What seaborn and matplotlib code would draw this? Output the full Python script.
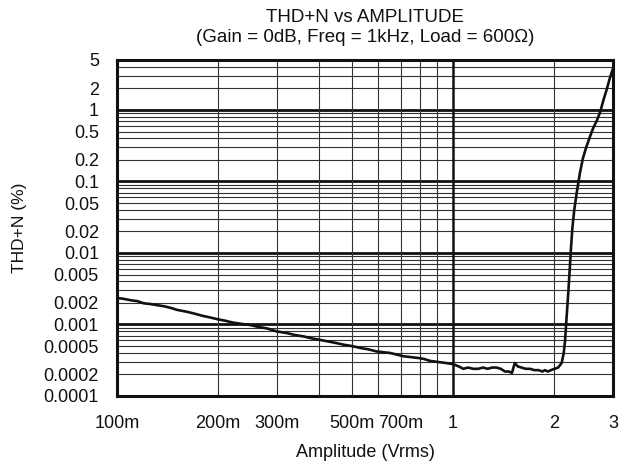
import matplotlib
matplotlib.use("Agg")
import matplotlib.pyplot as plt
import seaborn as sns
import pandas as pd
from matplotlib.ticker import FixedLocator, NullFormatter

# valores (Vrms, %)
amplitude = [0.100, 0.105, 0.110, 0.115, 0.120, 0.125, 0.131, 0.138, 0.145, 0.151,
             0.160, 0.169, 0.180, 0.190, 0.200, 0.210, 0.222, 0.235, 0.250, 0.265,
             0.280, 0.299, 0.320, 0.340, 0.360, 0.380, 0.402, 0.425, 0.450, 0.475,
             0.500, 0.530, 0.560, 0.593, 0.620, 0.650, 0.680, 0.712, 0.750, 0.790,
             0.820, 0.855, 0.900, 0.950, 1.000, 1.040, 1.075, 1.110, 1.150, 1.190,
             1.230, 1.270, 1.310, 1.350, 1.390, 1.430, 1.470, 1.500, 1.530, 1.560,
             1.600, 1.650, 1.700, 1.750, 1.800, 1.850, 1.880, 1.920, 1.960, 2.010,
             2.060, 2.110, 2.140, 2.160, 2.175, 2.190, 2.210, 2.230, 2.250, 2.270,
             2.300, 2.340, 2.390, 2.440, 2.500, 2.560, 2.620, 2.690, 2.750, 2.810,
             2.870, 2.930, 3.000]
thd_n = [0.00235, 0.00228, 0.00218, 0.00212, 0.00198, 0.00194, 0.00187, 0.00180, 0.00170, 0.00160,
         0.00152, 0.00143, 0.00132, 0.00125, 0.00118, 0.00113, 0.00106, 0.00102, 0.00098, 0.00092,
         0.00088, 0.00080, 0.00076, 0.00071, 0.00068, 0.00064, 0.00061, 0.00058, 0.00055, 0.00052,
         0.00050, 0.00047, 0.00045, 0.00042, 0.00041, 0.00040, 0.00038, 0.00036, 0.00035, 0.00034,
         0.00033, 0.00031, 0.00030, 0.00029, 0.00028, 0.00026, 0.00024, 0.00025, 0.00024, 0.00024,
         0.00025, 0.00024, 0.00025, 0.00025, 0.00024, 0.00022, 0.00022, 0.00021, 0.00029, 0.00026,
         0.00025, 0.00024, 0.00024, 0.00023, 0.00023, 0.00022, 0.00023, 0.00022, 0.00023, 0.00024,
         0.00025, 0.00029, 0.00040, 0.00060, 0.00100, 0.00160, 0.00300, 0.00600, 0.01200, 0.02200,
         0.04000, 0.07000, 0.13000, 0.21000, 0.30700, 0.42000, 0.56000, 0.72400, 0.95000, 1.38000,
         1.90000, 2.70000, 3.80000]

xticks = [0.1, 0.2, 0.3, 0.5, 0.7, 1, 2, 3]
xticklabels = ["100m", "200m", "300m", "500m", "700m", "1", "2", "3"]
yticks = [0.0001, 0.0002, 0.0005, 0.001, 0.002, 0.005, 0.01, 0.02, 0.05, 0.1, 0.2, 0.5, 1, 2, 5]
yticklabels = ["0.0001", "0.0002", "0.0005", "0.001", "0.002", "0.005", "0.01", "0.02",
               "0.05", "0.1", "0.2", "0.5", "1", "2", "5"]

sns.set_style("white")
plt.rcParams["font.family"] = ["Liberation Sans", "DejaVu Sans"]

df = pd.DataFrame({"amp": amplitude, "thd": thd_n})

fig = plt.figure(figsize=(6.19, 4.66), dpi=100)
ax = fig.add_axes([117 / 619, 70 / 466, 496 / 619, 336 / 466])

# grade
for dec in [0.0001, 0.001, 0.01, 0.1, 1]:
    for k in range(2, 10):
        v = dec * k
        if v < 5:
            ax.axhline(v, color="#333333", lw=0.8, zorder=1)
    if dec > 0.0001:
        ax.axhline(dec, color="#111111", lw=2.0, zorder=1)
for v in [0.2, 0.3, 0.4, 0.5, 0.6, 0.7, 0.8, 0.9, 2]:
    ax.axvline(v, color="#333333", lw=0.8, zorder=1)
ax.axvline(1, color="#111111", lw=1.8, zorder=1)

sns.lineplot(data=df, x="amp", y="thd", color="#111111", lw=1.9, ax=ax, zorder=3)

ax.set_xscale("log")
ax.set_yscale("log")
ax.set_xlim(0.1, 3)
ax.set_ylim(0.0001, 5)
ax.xaxis.set_major_locator(FixedLocator(xticks))
ax.set_xticklabels(xticklabels)
ax.xaxis.set_minor_formatter(NullFormatter())
ax.yaxis.set_major_locator(FixedLocator(yticks))
ax.set_yticklabels(yticklabels)
ax.yaxis.set_minor_formatter(NullFormatter())
ax.tick_params(which="both", length=0, labelsize=13, colors="#111111")
ax.tick_params(axis="x", pad=14)
ax.tick_params(axis="y", pad=13)

for s in ax.spines.values():
    s.set_linewidth(2.2)
    s.set_color("#111111")
    s.set_zorder(5)

ax.set_xlabel("Amplitude (Vrms)", fontsize=13, labelpad=8, color="#111111")
ax.set_ylabel("THD+N (%)", fontsize=12.5, labelpad=12, color="#111111")
ax.set_title("THD+N vs AMPLITUDE\n(Gain = 0dB, Freq = 1kHz, Load = 600Ω)", fontsize=13.5,
             pad=13, color="#111111")

plt.savefig("out.png", dpi=100)
plt.close()
